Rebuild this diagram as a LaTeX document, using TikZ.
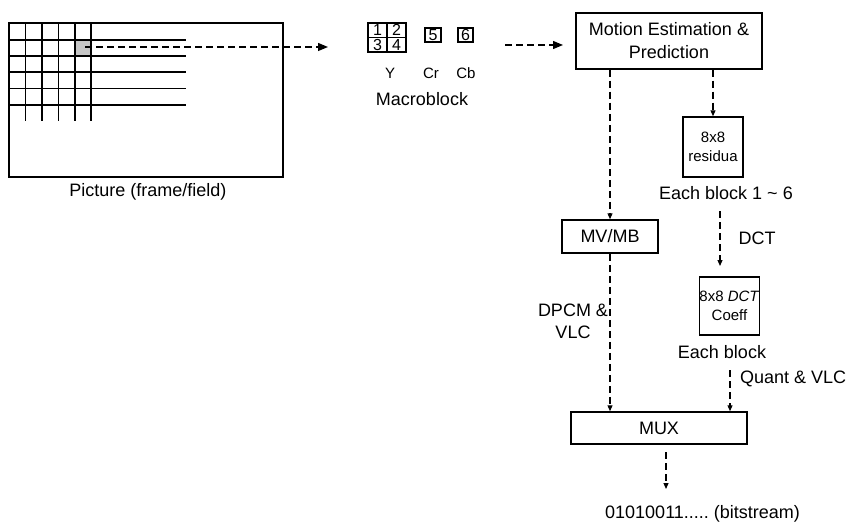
\documentclass[tikz,border=0pt]{standalone}
\usepackage{fontspec}
\setmainfont{Liberation Sans}
\usetikzlibrary{arrows.meta}
\frenchspacing
\begin{document}
\begin{tikzpicture}[x=1pt,y=-1pt,
  box/.style={draw,line width=1.5pt,inner sep=0pt,align=center,font=\fontsize{18}{23}\selectfont},
  smallbox/.style={box,font=\fontsize{15}{19}\selectfont},
  cell/.style={draw,line width=1.4pt,inner sep=0pt,minimum width=19pt,minimum height=14.5pt,font=\fontsize{16}{16}\selectfont},
  lbl/.style={inner sep=0pt,font=\fontsize{18}{22}\selectfont,align=center},
  slbl/.style={inner sep=0pt,font=\fontsize{15}{18}\selectfont},
  flow/.style={dash pattern=on 7pt off 4pt,line width=1.2pt,-{Triangle[length=6pt,width=5pt]}},
  bigflow/.style={flow,-{Triangle[length=10pt,width=8pt]}},
  gridline/.style={line width=1.4pt}]
\useasboundingbox (0,0) rectangle (852,527);

% picture (frame/field) with its macroblock grid
\draw[gridline] (9,23) rectangle (283,177);
\fill[gray!45] (75,40) rectangle (91,56);
\foreach \x in {25.5,42,58.5,75,91} \draw[gridline] (\x,23) -- (\x,121);
\foreach \y in {40,56,72,88.5,105} \draw[gridline] (9,\y) -- (186,\y);
\node[lbl] (piclbl) at (148,192) {Picture (frame/field)};
\coordinate (mbsrc) at (85,47);
\coordinate (mbdst) at (328,47);
\draw[bigflow] (mbsrc) -- (mbdst);

% macroblock: four luminance blocks and two chrominance blocks
\node[cell] (c1) at (377.5,30.25) {1};
\node[cell] (c2) at (396.5,30.25) {2};
\node[cell] (c3) at (377.5,44.75) {3};
\node[cell] (c4) at (396.5,44.75) {4};
\node[cell,minimum width=16pt,minimum height=14pt] (c5) at (433,35) {5};
\node[cell,minimum width=15pt,minimum height=14pt] (c6) at (465.5,35) {6};
\node[slbl] (ylbl) at (390,73) {Y};
\node[slbl] (crlbl) at (431,73) {Cr};
\node[slbl] (cblbl) at (466,73) {Cb};
\node[lbl] (mblbl) at (422,99) {Macroblock};
\coordinate (mbout) at (505,45);
\coordinate (mein) at (563,45);
\draw[bigflow] (mbout) -- (mein);

% processing boxes
\node[box,minimum width=186pt,minimum height=56pt] (me) at (669,41) {Motion Estimation \&\\Prediction};
\node[smallbox,minimum width=60pt,minimum height=60pt] (res) at (713,147) {8x8\\residua};
\node[box,minimum width=96pt,minimum height=33pt] (mv) at (610,236.5) {MV/MB};
\node[box,minimum width=59pt,minimum height=58pt,font=\fontsize{15}{19}\selectfont] (coef) at (729.5,306) {8x8 \textit{DCT}\\Coeff};
\node[box,minimum width=176pt,minimum height=32pt] (mux) at (659,428) {MUX};

% labels beside the flow
\node[lbl,anchor=west] (eb6) at (659,193) {Each block 1 \textasciitilde{} 6};
\node[lbl] (dctlbl) at (757,238) {DCT};
\node[lbl] (dpcm) at (573,321) {DPCM \&\\VLC};
\node[lbl] (eb) at (722,352) {Each block};
\node[lbl,anchor=west] (qv) at (740,379) {Quant \& VLC};
\node[lbl,anchor=west] (bits) at (605,514) {01010011..... (bitstream)};

% flow connectors
\draw[flow] (me.south -| mv) -- (mv.north);
\draw[flow] (me.south -| res) -- (res.north);
\coordinate (dcttop) at (720,211);
\coordinate (dctend) at (720,266);
\draw[flow] (dcttop) -- (dctend);
\draw[flow] (mv.south) -- (mv.south |- mux.north);
\coordinate (qtop) at (730,370);
\draw[flow] (qtop) -- (qtop |- mux.north);
\coordinate (muxout) at (666,452);
\coordinate (bitsin) at (666,489);
\draw[flow] (muxout) -- (bitsin);
\end{tikzpicture}
\end{document}
